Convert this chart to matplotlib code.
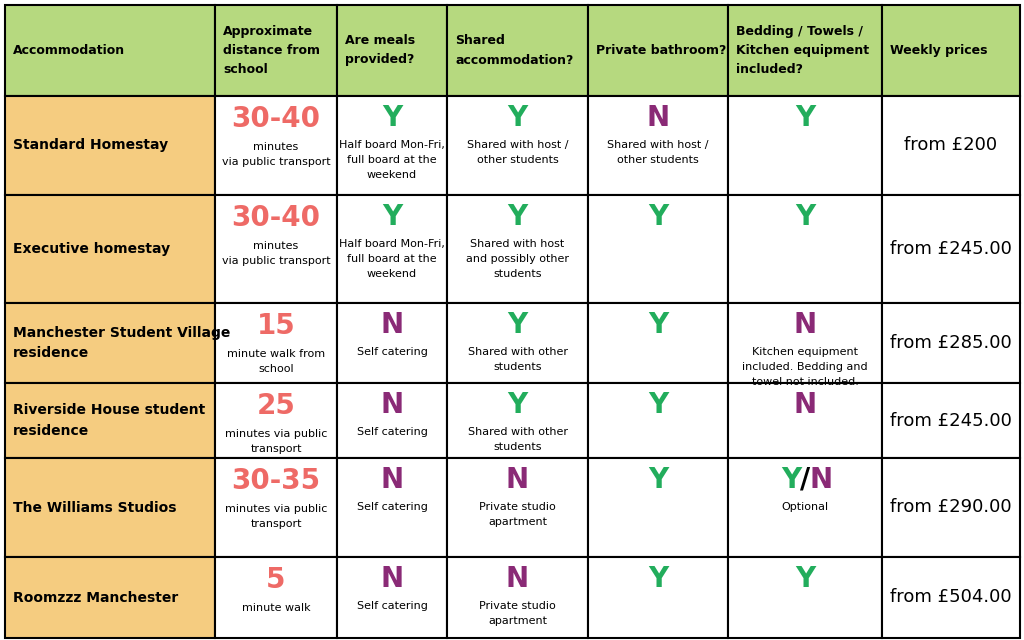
import matplotlib.pyplot as plt
from matplotlib.patches import Rectangle

headers = ["Accommodation", "Approximate\ndistance from\nschool", "Are meals\nprovided?",
           "Shared\naccommodation?", "Private bathroom?",
           "Bedding / Towels /\nKitchen equipment\nincluded?", "Weekly prices"]
names = ["Standard Homestay", "Executive homestay", "Manchester Student Village\nresidence",
         "Riverside House student\nresidence", "The Williams Studios", "Roomzzz Manchester"]
dist_num = ["30-40", "30-40", "15", "25", "30-35", "5"]
dist_txt = ["minutes\nvia public transport", "minutes\nvia public transport", "minute walk from\nschool",
            "minutes via public\ntransport", "minutes via public\ntransport", "minute walk"]
meals = ["Y", "Y", "N", "N", "N", "N"]
meals_txt = ["Half board Mon-Fri,\nfull board at the\nweekend", "Half board Mon-Fri,\nfull board at the\nweekend",
             "Self catering", "Self catering", "Self catering", "Self catering"]
shared = ["Y", "Y", "Y", "Y", "N", "N"]
shared_txt = ["Shared with host /\nother students", "Shared with host\nand possibly other\nstudents",
              "Shared with other\nstudents", "Shared with other\nstudents", "Private studio\napartment",
              "Private studio\napartment"]
bath = ["N", "Y", "Y", "Y", "Y", "Y"]
bath_txt = ["Shared with host /\nother students", "", "", "", "", ""]
bedding = ["Y", "Y", "N", "N", "Y/N", "Y"]
bedding_txt = ["", "", "Kitchen equipment\nincluded. Bedding and\ntowel not included.", "", "Optional", ""]
prices = ["from £200", "from £245.00", "from £285.00", "from £245.00", "from £290.00", "from £504.00"]

col_x = [5, 215, 337, 447, 588, 728, 882, 1020]
row_y = [5, 96, 195, 303, 383, 458, 557, 638]

GREEN_HDR = "#b6d97f"
ORANGE = "#f5cc80"
RED = "#ee6a66"
YG = "#22ad5c"
NP = "#8a2a76"
big = dict(fontsize=20, fontweight="bold", ha="center", va="center")
small = dict(fontsize=8, ha="center", va="top", linespacing=1.6)

fig = plt.figure(figsize=(10.24, 6.4), dpi=100)
ax = fig.add_axes([0, 0, 1, 1])
ax.set_xlim(0, 1024)
ax.set_ylim(640, 0)
ax.axis("off")

for r in range(7):
    for c in range(7):
        x0, x1 = col_x[c], col_x[c + 1]
        y0, y1 = row_y[r], row_y[r + 1]
        fc = GREEN_HDR if r == 0 else (ORANGE if c == 0 else "white")
        ax.add_patch(Rectangle((x0, y0), x1 - x0, y1 - y0, facecolor=fc, edgecolor="black", lw=1.5))

for c, h in enumerate(headers):
    ax.text(col_x[c] + 8, (row_y[0] + row_y[1]) / 2, h, fontsize=9, fontweight="bold",
            ha="left", va="center", linespacing=1.6)


def yn(cx, y, v):
    if v == "Y/N":
        ax.text(cx - 14, y, "Y", color=YG, **big)
        ax.text(cx, y, "/", color="black", **big)
        ax.text(cx + 16, y, "N", color=NP, **big)
    else:
        ax.text(cx, y, v, color=YG if v == "Y" else NP, **big)


for i in range(6):
    y0, y1 = row_y[i + 1], row_y[i + 2]
    ym = (y0 + y1) / 2
    ax.text(col_x[0] + 8, ym, names[i], fontsize=10, fontweight="bold", ha="left", va="center",
            linespacing=1.6)
    cx = (col_x[1] + col_x[2]) / 2
    ax.text(cx, y0 + 23, dist_num[i], color=RED, **big)
    ax.text(cx, y0 + 46, dist_txt[i], **small)
    for c, vals, txts in [(2, meals, meals_txt), (3, shared, shared_txt), (4, bath, bath_txt),
                          (5, bedding, bedding_txt)]:
        cx = (col_x[c] + col_x[c + 1]) / 2
        yn(cx, y0 + 22, vals[i])
        if txts[i]:
            ax.text(cx, y0 + 44, txts[i], **small)
    ax.text((col_x[6] + col_x[7]) / 2, ym, prices[i], fontsize=13, ha="center", va="center")

fig.savefig("out.png", dpi=100)
